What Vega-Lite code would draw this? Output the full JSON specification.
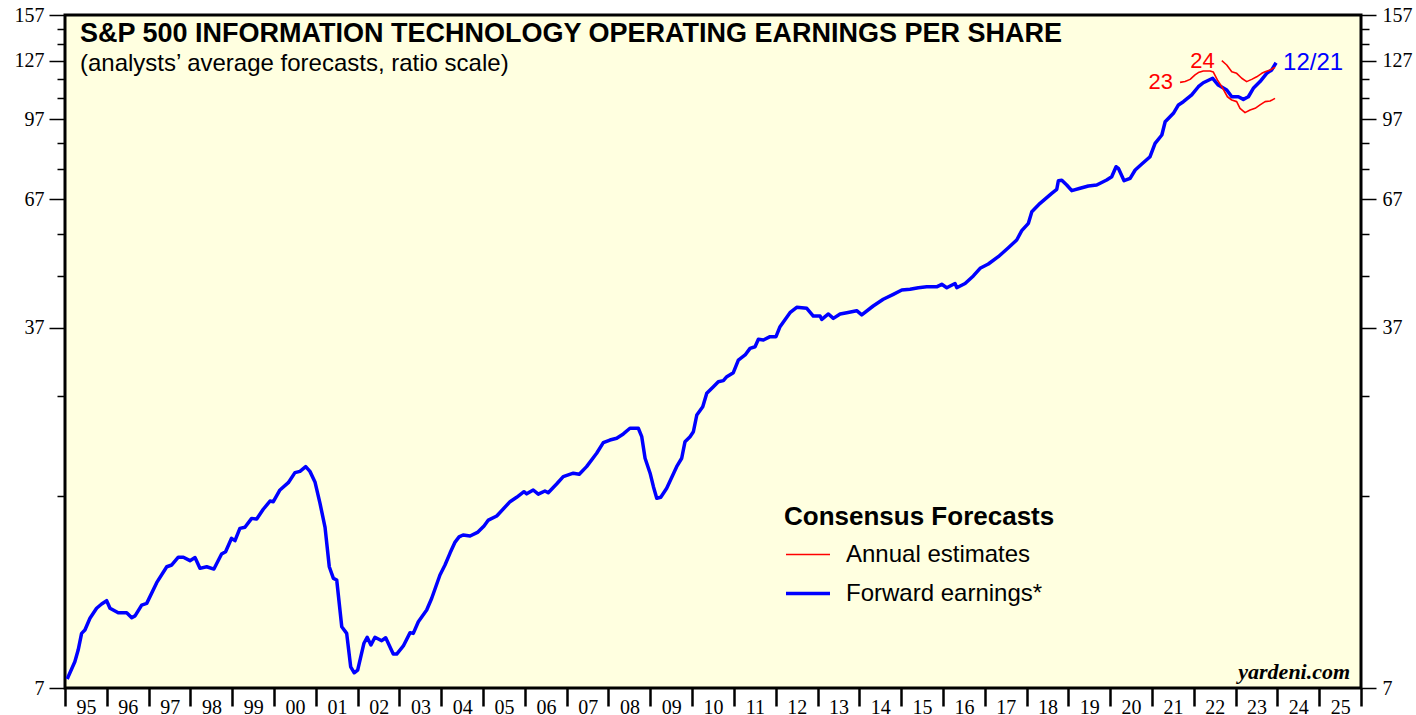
{
  "$schema": "https://vega.github.io/schema/vega-lite/v6.json",
  "autosize": "none",
  "width": 1296,
  "height": 673,
  "padding": {"left": 65, "top": 15, "right": 55, "bottom": 27},
  "background": "white",
  "title": {
    "text": "S&P 500 INFORMATION TECHNOLOGY OPERATING EARNINGS PER SHARE",
    "subtitle": "(analysts’ average forecasts, ratio scale)",
    "anchor": "start", "frame": "group", "orient": "top", "offset": -72, "dx": 15,
    "font": "Liberation Sans", "fontSize": 27, "fontWeight": "bold", "color": "black",
    "subtitleFont": "Liberation Sans", "subtitleFontSize": 24, "subtitleColor": "black", "subtitlePadding": 4
  },
  "config": {
    "view": {"fill": "#ffffe0", "stroke": "black", "strokeWidth": 3}
  },
  "datasets": {
    "lines": [
      {"date":"1995-01-20","value":7.30,"series":"Forward","kind":"Forward earnings*"},
      {"date":"1995-03-28","value":7.90,"series":"Forward","kind":"Forward earnings*"},
      {"date":"1995-04-26","value":8.34,"series":"Forward","kind":"Forward earnings*"},
      {"date":"1995-05-26","value":9.01,"series":"Forward","kind":"Forward earnings*"},
      {"date":"1995-06-24","value":9.15,"series":"Forward","kind":"Forward earnings*"},
      {"date":"1995-08-07","value":9.66,"series":"Forward","kind":"Forward earnings*"},
      {"date":"1995-10-04","value":10.12,"series":"Forward","kind":"Forward earnings*"},
      {"date":"1995-11-17","value":10.32,"series":"Forward","kind":"Forward earnings*"},
      {"date":"1995-12-31","value":10.48,"series":"Forward","kind":"Forward earnings*"},
      {"date":"1996-01-29","value":10.12,"series":"Forward","kind":"Forward earnings*"},
      {"date":"1996-04-10","value":9.91,"series":"Forward","kind":"Forward earnings*"},
      {"date":"1996-06-23","value":9.91,"series":"Forward","kind":"Forward earnings*"},
      {"date":"1996-08-06","value":9.69,"series":"Forward","kind":"Forward earnings*"},
      {"date":"1996-09-04","value":9.77,"series":"Forward","kind":"Forward earnings*"},
      {"date":"1996-11-01","value":10.27,"series":"Forward","kind":"Forward earnings*"},
      {"date":"1996-12-15","value":10.35,"series":"Forward","kind":"Forward earnings*"},
      {"date":"1997-03-12","value":11.39,"series":"Forward","kind":"Forward earnings*"},
      {"date":"1997-06-08","value":12.26,"series":"Forward","kind":"Forward earnings*"},
      {"date":"1997-07-22","value":12.36,"series":"Forward","kind":"Forward earnings*"},
      {"date":"1997-09-17","value":12.81,"series":"Forward","kind":"Forward earnings*"},
      {"date":"1997-10-31","value":12.81,"series":"Forward","kind":"Forward earnings*"},
      {"date":"1997-12-28","value":12.61,"series":"Forward","kind":"Forward earnings*"},
      {"date":"1998-02-10","value":12.79,"series":"Forward","kind":"Forward earnings*"},
      {"date":"1998-03-25","value":12.17,"series":"Forward","kind":"Forward earnings*"},
      {"date":"1998-05-23","value":12.26,"series":"Forward","kind":"Forward earnings*"},
      {"date":"1998-07-25","value":12.13,"series":"Forward","kind":"Forward earnings*"},
      {"date":"1998-09-30","value":13.00,"series":"Forward","kind":"Forward earnings*"},
      {"date":"1998-11-04","value":13.14,"series":"Forward","kind":"Forward earnings*"},
      {"date":"1998-12-26","value":13.98,"series":"Forward","kind":"Forward earnings*"},
      {"date":"1999-01-25","value":13.83,"series":"Forward","kind":"Forward earnings*"},
      {"date":"1999-03-09","value":14.64,"series":"Forward","kind":"Forward earnings*"},
      {"date":"1999-04-22","value":14.71,"series":"Forward","kind":"Forward earnings*"},
      {"date":"1999-06-20","value":15.33,"series":"Forward","kind":"Forward earnings*"},
      {"date":"1999-08-03","value":15.28,"series":"Forward","kind":"Forward earnings*"},
      {"date":"1999-09-29","value":15.99,"series":"Forward","kind":"Forward earnings*"},
      {"date":"1999-11-27","value":16.61,"series":"Forward","kind":"Forward earnings*"},
      {"date":"1999-12-26","value":16.56,"series":"Forward","kind":"Forward earnings*"},
      {"date":"2000-02-22","value":17.48,"series":"Forward","kind":"Forward earnings*"},
      {"date":"2000-05-05","value":18.08,"series":"Forward","kind":"Forward earnings*"},
      {"date":"2000-07-02","value":18.94,"series":"Forward","kind":"Forward earnings*"},
      {"date":"2000-08-15","value":19.05,"series":"Forward","kind":"Forward earnings*"},
      {"date":"2000-10-04","value":19.47,"series":"Forward","kind":"Forward earnings*"},
      {"date":"2000-11-10","value":19.05,"series":"Forward","kind":"Forward earnings*"},
      {"date":"2000-12-24","value":18.14,"series":"Forward","kind":"Forward earnings*"},
      {"date":"2001-02-06","value":16.43,"series":"Forward","kind":"Forward earnings*"},
      {"date":"2001-03-22","value":14.71,"series":"Forward","kind":"Forward earnings*"},
      {"date":"2001-04-28","value":12.26,"series":"Forward","kind":"Forward earnings*"},
      {"date":"2001-06-03","value":11.62,"series":"Forward","kind":"Forward earnings*"},
      {"date":"2001-07-02","value":11.53,"series":"Forward","kind":"Forward earnings*"},
      {"date":"2001-08-15","value":9.29,"series":"Forward","kind":"Forward earnings*"},
      {"date":"2001-09-27","value":9.01,"series":"Forward","kind":"Forward earnings*"},
      {"date":"2001-11-01","value":7.72,"series":"Forward","kind":"Forward earnings*"},
      {"date":"2001-12-02","value":7.51,"series":"Forward","kind":"Forward earnings*"},
      {"date":"2002-01-01","value":7.60,"series":"Forward","kind":"Forward earnings*"},
      {"date":"2002-02-25","value":8.61,"series":"Forward","kind":"Forward earnings*"},
      {"date":"2002-03-25","value":8.85,"series":"Forward","kind":"Forward earnings*"},
      {"date":"2002-04-27","value":8.54,"series":"Forward","kind":"Forward earnings*"},
      {"date":"2002-06-01","value":8.85,"series":"Forward","kind":"Forward earnings*"},
      {"date":"2002-07-30","value":8.71,"series":"Forward","kind":"Forward earnings*"},
      {"date":"2002-09-03","value":8.83,"series":"Forward","kind":"Forward earnings*"},
      {"date":"2002-11-08","value":8.19,"series":"Forward","kind":"Forward earnings*"},
      {"date":"2002-12-08","value":8.19,"series":"Forward","kind":"Forward earnings*"},
      {"date":"2003-02-04","value":8.50,"series":"Forward","kind":"Forward earnings*"},
      {"date":"2003-04-04","value":9.04,"series":"Forward","kind":"Forward earnings*"},
      {"date":"2003-05-02","value":9.01,"series":"Forward","kind":"Forward earnings*"},
      {"date":"2003-06-15","value":9.51,"series":"Forward","kind":"Forward earnings*"},
      {"date":"2003-08-27","value":10.04,"series":"Forward","kind":"Forward earnings*"},
      {"date":"2003-10-10","value":10.60,"series":"Forward","kind":"Forward earnings*"},
      {"date":"2003-12-21","value":11.80,"series":"Forward","kind":"Forward earnings*"},
      {"date":"2004-02-03","value":12.36,"series":"Forward","kind":"Forward earnings*"},
      {"date":"2004-03-18","value":13.06,"series":"Forward","kind":"Forward earnings*"},
      {"date":"2004-05-01","value":13.74,"series":"Forward","kind":"Forward earnings*"},
      {"date":"2004-06-05","value":14.07,"series":"Forward","kind":"Forward earnings*"},
      {"date":"2004-07-10","value":14.20,"series":"Forward","kind":"Forward earnings*"},
      {"date":"2004-09-09","value":14.13,"series":"Forward","kind":"Forward earnings*"},
      {"date":"2004-11-17","value":14.39,"series":"Forward","kind":"Forward earnings*"},
      {"date":"2005-01-09","value":14.80,"series":"Forward","kind":"Forward earnings*"},
      {"date":"2005-02-16","value":15.21,"series":"Forward","kind":"Forward earnings*"},
      {"date":"2005-04-30","value":15.50,"series":"Forward","kind":"Forward earnings*"},
      {"date":"2005-08-24","value":16.56,"series":"Forward","kind":"Forward earnings*"},
      {"date":"2005-10-21","value":16.90,"series":"Forward","kind":"Forward earnings*"},
      {"date":"2005-12-24","value":17.34,"series":"Forward","kind":"Forward earnings*"},
      {"date":"2006-01-17","value":17.17,"series":"Forward","kind":"Forward earnings*"},
      {"date":"2006-03-15","value":17.48,"series":"Forward","kind":"Forward earnings*"},
      {"date":"2006-04-28","value":17.15,"series":"Forward","kind":"Forward earnings*"},
      {"date":"2006-06-25","value":17.40,"series":"Forward","kind":"Forward earnings*"},
      {"date":"2006-07-24","value":17.26,"series":"Forward","kind":"Forward earnings*"},
      {"date":"2006-10-05","value":17.97,"series":"Forward","kind":"Forward earnings*"},
      {"date":"2006-12-02","value":18.59,"series":"Forward","kind":"Forward earnings*"},
      {"date":"2007-02-28","value":18.89,"series":"Forward","kind":"Forward earnings*"},
      {"date":"2007-04-21","value":18.80,"series":"Forward","kind":"Forward earnings*"},
      {"date":"2007-06-24","value":19.47,"series":"Forward","kind":"Forward earnings*"},
      {"date":"2007-09-20","value":20.71,"series":"Forward","kind":"Forward earnings*"},
      {"date":"2007-11-17","value":21.75,"series":"Forward","kind":"Forward earnings*"},
      {"date":"2008-01-14","value":22.02,"series":"Forward","kind":"Forward earnings*"},
      {"date":"2008-03-13","value":22.20,"series":"Forward","kind":"Forward earnings*"},
      {"date":"2008-05-10","value":22.65,"series":"Forward","kind":"Forward earnings*"},
      {"date":"2008-07-07","value":23.25,"series":"Forward","kind":"Forward earnings*"},
      {"date":"2008-09-18","value":23.25,"series":"Forward","kind":"Forward earnings*"},
      {"date":"2008-10-18","value":22.36,"series":"Forward","kind":"Forward earnings*"},
      {"date":"2008-11-16","value":20.24,"series":"Forward","kind":"Forward earnings*"},
      {"date":"2008-12-30","value":18.89,"series":"Forward","kind":"Forward earnings*"},
      {"date":"2009-01-28","value":17.75,"series":"Forward","kind":"Forward earnings*"},
      {"date":"2009-02-26","value":16.82,"series":"Forward","kind":"Forward earnings*"},
      {"date":"2009-04-02","value":16.90,"series":"Forward","kind":"Forward earnings*"},
      {"date":"2009-05-24","value":17.62,"series":"Forward","kind":"Forward earnings*"},
      {"date":"2009-08-19","value":19.47,"series":"Forward","kind":"Forward earnings*"},
      {"date":"2009-10-02","value":20.24,"series":"Forward","kind":"Forward earnings*"},
      {"date":"2009-10-31","value":21.85,"series":"Forward","kind":"Forward earnings*"},
      {"date":"2009-12-14","value":22.36,"series":"Forward","kind":"Forward earnings*"},
      {"date":"2010-01-12","value":22.88,"series":"Forward","kind":"Forward earnings*"},
      {"date":"2010-02-11","value":24.72,"series":"Forward","kind":"Forward earnings*"},
      {"date":"2010-04-04","value":25.69,"series":"Forward","kind":"Forward earnings*"},
      {"date":"2010-05-09","value":27.33,"series":"Forward","kind":"Forward earnings*"},
      {"date":"2010-07-06","value":28.17,"series":"Forward","kind":"Forward earnings*"},
      {"date":"2010-08-18","value":28.83,"series":"Forward","kind":"Forward earnings*"},
      {"date":"2010-10-01","value":28.98,"series":"Forward","kind":"Forward earnings*"},
      {"date":"2010-10-31","value":29.51,"series":"Forward","kind":"Forward earnings*"},
      {"date":"2010-12-27","value":30.06,"series":"Forward","kind":"Forward earnings*"},
      {"date":"2011-02-09","value":31.87,"series":"Forward","kind":"Forward earnings*"},
      {"date":"2011-04-09","value":32.63,"series":"Forward","kind":"Forward earnings*"},
      {"date":"2011-05-22","value":33.64,"series":"Forward","kind":"Forward earnings*"},
      {"date":"2011-07-05","value":33.89,"series":"Forward","kind":"Forward earnings*"},
      {"date":"2011-08-03","value":35.07,"series":"Forward","kind":"Forward earnings*"},
      {"date":"2011-09-16","value":34.96,"series":"Forward","kind":"Forward earnings*"},
      {"date":"2011-11-13","value":35.50,"series":"Forward","kind":"Forward earnings*"},
      {"date":"2012-01-04","value":35.50,"series":"Forward","kind":"Forward earnings*"},
      {"date":"2012-02-08","value":37.18,"series":"Forward","kind":"Forward earnings*"},
      {"date":"2012-05-05","value":39.66,"series":"Forward","kind":"Forward earnings*"},
      {"date":"2012-07-03","value":40.66,"series":"Forward","kind":"Forward earnings*"},
      {"date":"2012-09-29","value":40.47,"series":"Forward","kind":"Forward earnings*"},
      {"date":"2012-11-25","value":39.06,"series":"Forward","kind":"Forward earnings*"},
      {"date":"2013-01-23","value":39.06,"series":"Forward","kind":"Forward earnings*"},
      {"date":"2013-02-07","value":38.45,"series":"Forward","kind":"Forward earnings*"},
      {"date":"2013-04-06","value":39.43,"series":"Forward","kind":"Forward earnings*"},
      {"date":"2013-05-19","value":38.63,"series":"Forward","kind":"Forward earnings*"},
      {"date":"2013-07-17","value":39.43,"series":"Forward","kind":"Forward earnings*"},
      {"date":"2013-09-13","value":39.66,"series":"Forward","kind":"Forward earnings*"},
      {"date":"2013-12-09","value":40.03,"series":"Forward","kind":"Forward earnings*"},
      {"date":"2014-01-22","value":39.26,"series":"Forward","kind":"Forward earnings*"},
      {"date":"2014-05-02","value":40.91,"series":"Forward","kind":"Forward earnings*"},
      {"date":"2014-07-29","value":42.20,"series":"Forward","kind":"Forward earnings*"},
      {"date":"2014-10-25","value":43.18,"series":"Forward","kind":"Forward earnings*"},
      {"date":"2015-01-07","value":44.05,"series":"Forward","kind":"Forward earnings*"},
      {"date":"2015-03-20","value":44.20,"series":"Forward","kind":"Forward earnings*"},
      {"date":"2015-06-01","value":44.52,"series":"Forward","kind":"Forward earnings*"},
      {"date":"2015-08-13","value":44.70,"series":"Forward","kind":"Forward earnings*"},
      {"date":"2015-11-08","value":44.70,"series":"Forward","kind":"Forward earnings*"},
      {"date":"2015-12-22","value":45.22,"series":"Forward","kind":"Forward earnings*"},
      {"date":"2016-02-04","value":44.52,"series":"Forward","kind":"Forward earnings*"},
      {"date":"2016-04-16","value":45.40,"series":"Forward","kind":"Forward earnings*"},
      {"date":"2016-05-01","value":44.52,"series":"Forward","kind":"Forward earnings*"},
      {"date":"2016-07-13","value":45.40,"series":"Forward","kind":"Forward earnings*"},
      {"date":"2016-09-23","value":47.00,"series":"Forward","kind":"Forward earnings*"},
      {"date":"2016-11-21","value":48.70,"series":"Forward","kind":"Forward earnings*"},
      {"date":"2017-02-01","value":49.67,"series":"Forward","kind":"Forward earnings*"},
      {"date":"2017-04-29","value":51.38,"series":"Forward","kind":"Forward earnings*"},
      {"date":"2017-07-26","value":53.56,"series":"Forward","kind":"Forward earnings*"},
      {"date":"2017-10-07","value":55.50,"series":"Forward","kind":"Forward earnings*"},
      {"date":"2017-11-20","value":57.94,"series":"Forward","kind":"Forward earnings*"},
      {"date":"2018-01-17","value":59.95,"series":"Forward","kind":"Forward earnings*"},
      {"date":"2018-02-16","value":63.26,"series":"Forward","kind":"Forward earnings*"},
      {"date":"2018-04-29","value":65.76,"series":"Forward","kind":"Forward earnings*"},
      {"date":"2018-08-09","value":68.87,"series":"Forward","kind":"Forward earnings*"},
      {"date":"2018-09-22","value":70.16,"series":"Forward","kind":"Forward earnings*"},
      {"date":"2018-10-06","value":73.00,"series":"Forward","kind":"Forward earnings*"},
      {"date":"2018-11-05","value":73.14,"series":"Forward","kind":"Forward earnings*"},
      {"date":"2018-12-18","value":71.56,"series":"Forward","kind":"Forward earnings*"},
      {"date":"2019-01-31","value":69.71,"series":"Forward","kind":"Forward earnings*"},
      {"date":"2019-04-14","value":70.48,"series":"Forward","kind":"Forward earnings*"},
      {"date":"2019-06-25","value":71.23,"series":"Forward","kind":"Forward earnings*"},
      {"date":"2019-09-06","value":71.56,"series":"Forward","kind":"Forward earnings*"},
      {"date":"2019-12-02","value":73.23,"series":"Forward","kind":"Forward earnings*"},
      {"date":"2020-01-15","value":74.36,"series":"Forward","kind":"Forward earnings*"},
      {"date":"2020-02-22","value":77.88,"series":"Forward","kind":"Forward earnings*"},
      {"date":"2020-03-13","value":77.30,"series":"Forward","kind":"Forward earnings*"},
      {"date":"2020-05-02","value":73.00,"series":"Forward","kind":"Forward earnings*"},
      {"date":"2020-06-24","value":73.81,"series":"Forward","kind":"Forward earnings*"},
      {"date":"2020-08-07","value":76.70,"series":"Forward","kind":"Forward earnings*"},
      {"date":"2020-10-04","value":78.85,"series":"Forward","kind":"Forward earnings*"},
      {"date":"2020-12-15","value":81.56,"series":"Forward","kind":"Forward earnings*"},
      {"date":"2021-01-28","value":86.77,"series":"Forward","kind":"Forward earnings*"},
      {"date":"2021-03-28","value":90.17,"series":"Forward","kind":"Forward earnings*"},
      {"date":"2021-04-26","value":95.88,"series":"Forward","kind":"Forward earnings*"},
      {"date":"2021-07-07","value":99.68,"series":"Forward","kind":"Forward earnings*"},
      {"date":"2021-08-20","value":103.6,"series":"Forward","kind":"Forward earnings*"},
      {"date":"2021-10-02","value":105.17,"series":"Forward","kind":"Forward earnings*"},
      {"date":"2021-12-14","value":108.5,"series":"Forward","kind":"Forward earnings*"},
      {"date":"2022-02-10","value":112.7,"series":"Forward","kind":"Forward earnings*"},
      {"date":"2022-03-25","value":114.8,"series":"Forward","kind":"Forward earnings*"},
      {"date":"2022-06-15","value":117.2,"series":"Forward","kind":"Forward earnings*"},
      {"date":"2022-08-03","value":113.6,"series":"Forward","kind":"Forward earnings*"},
      {"date":"2022-10-16","value":111.0,"series":"Forward","kind":"Forward earnings*"},
      {"date":"2022-11-29","value":107.6,"series":"Forward","kind":"Forward earnings*"},
      {"date":"2023-01-26","value":107.6,"series":"Forward","kind":"Forward earnings*"},
      {"date":"2023-03-10","value":106.3,"series":"Forward","kind":"Forward earnings*"},
      {"date":"2023-04-23","value":107.6,"series":"Forward","kind":"Forward earnings*"},
      {"date":"2023-06-05","value":111.9,"series":"Forward","kind":"Forward earnings*"},
      {"date":"2023-08-03","value":115.4,"series":"Forward","kind":"Forward earnings*"},
      {"date":"2023-09-30","value":119.9,"series":"Forward","kind":"Forward earnings*"},
      {"date":"2023-11-13","value":121.8,"series":"Forward","kind":"Forward earnings*"},
      {"date":"2023-12-21","value":125.9,"series":"Forward","kind":"Forward earnings*"},
      {"date":"2021-09-03","value":115.0,"series":"2023","kind":"Annual estimates"},
      {"date":"2021-10-17","value":115.5,"series":"2023","kind":"Annual estimates"},
      {"date":"2021-11-30","value":116.6,"series":"2023","kind":"Annual estimates"},
      {"date":"2022-01-12","value":119.0,"series":"2023","kind":"Annual estimates"},
      {"date":"2022-02-10","value":120.3,"series":"2023","kind":"Annual estimates"},
      {"date":"2022-03-25","value":121.2,"series":"2023","kind":"Annual estimates"},
      {"date":"2022-05-23","value":121.2,"series":"2023","kind":"Annual estimates"},
      {"date":"2022-06-21","value":120.6,"series":"2023","kind":"Annual estimates"},
      {"date":"2022-07-26","value":116.3,"series":"2023","kind":"Annual estimates"},
      {"date":"2022-09-03","value":112.7,"series":"2023","kind":"Annual estimates"},
      {"date":"2022-10-22","value":107.6,"series":"2023","kind":"Annual estimates"},
      {"date":"2022-11-29","value":106.0,"series":"2023","kind":"Annual estimates"},
      {"date":"2023-01-11","value":105.2,"series":"2023","kind":"Annual estimates"},
      {"date":"2023-02-09","value":102.0,"series":"2023","kind":"Annual estimates"},
      {"date":"2023-03-25","value":100.0,"series":"2023","kind":"Annual estimates"},
      {"date":"2023-05-08","value":101.2,"series":"2023","kind":"Annual estimates"},
      {"date":"2023-06-21","value":102.0,"series":"2023","kind":"Annual estimates"},
      {"date":"2023-08-03","value":103.6,"series":"2023","kind":"Annual estimates"},
      {"date":"2023-09-16","value":105.2,"series":"2023","kind":"Annual estimates"},
      {"date":"2023-10-30","value":105.5,"series":"2023","kind":"Annual estimates"},
      {"date":"2023-12-12","value":106.8,"series":"2023","kind":"Annual estimates"},
      {"date":"2022-09-03","value":127.1,"series":"2024","kind":"Annual estimates"},
      {"date":"2022-10-16","value":124.6,"series":"2024","kind":"Annual estimates"},
      {"date":"2022-11-29","value":120.8,"series":"2024","kind":"Annual estimates"},
      {"date":"2023-01-11","value":119.9,"series":"2024","kind":"Annual estimates"},
      {"date":"2023-02-24","value":117.2,"series":"2024","kind":"Annual estimates"},
      {"date":"2023-04-08","value":115.4,"series":"2024","kind":"Annual estimates"},
      {"date":"2023-05-22","value":116.6,"series":"2024","kind":"Annual estimates"},
      {"date":"2023-07-05","value":118.0,"series":"2024","kind":"Annual estimates"},
      {"date":"2023-08-18","value":119.9,"series":"2024","kind":"Annual estimates"},
      {"date":"2023-09-16","value":120.8,"series":"2024","kind":"Annual estimates"},
      {"date":"2023-10-30","value":121.8,"series":"2024","kind":"Annual estimates"},
      {"date":"2023-12-12","value":123.3,"series":"2024","kind":"Annual estimates"}
    ],
    "labels": [
      {"date":"2021-09-03","value":115.0,"label":"23","kind":"Annual estimates"},
      {"date":"2022-09-03","value":127.1,"label":"24","kind":"Annual estimates"},
      {"date":"2023-12-21","value":125.9,"label":"12/21","kind":"Forward earnings*"}
    ],
    "source": [
      {"date":"2025-09-28","value":7.54,"label":"yardeni.com"}
    ]
  },
  "resolve": {"axis": {"y": "independent"}},
  "layer": [
    {
      "data": {"name": "lines"},
      "mark": {"type": "line", "interpolate": "linear", "strokeJoin": "round"},
      "encoding": {
        "x": {
          "field": "date", "type": "temporal",
          "scale": {"type": "utc", "domain": [{"year": 1995, "month": 1, "date": 1, "utc": true}, {"year": 2026, "month": 1, "date": 1, "utc": true}], "nice": false},
          "axis": {
            "orient": "bottom", "title": null, "grid": false, "domain": false,
            "tickCount": {"interval": "year", "step": 1},
            "labelExpr": "utcyear(datum.value) >= 2026 ? '' : utcFormat(datum.value, '%y')",
            "tickSize": 18, "tickWidth": 2.5, "tickColor": "black",
            "labelOffset": 21, "labelPadding": -9, "labelBaseline": "top",
            "labelFont": "Liberation Serif", "labelFontSize": 20, "labelColor": "black",
            "labelFlush": false, "labelOverlap": false
          }
        },
        "y": {
          "field": "value", "type": "quantitative",
          "scale": {"type": "log", "domain": [7, 157], "nice": false},
          "axis": {
            "orient": "left", "title": null, "grid": false, "domain": false,
            "values": [7, 17, 27, 37, 47, 57, 67, 77, 87, 97, 107, 117, 127, 137, 147, 157],
            "format": "d",
            "labelExpr": "indexof([7,37,67,97,127,157], datum.value) >= 0 ? toString(datum.value) : ''",
            "tickSize": {"condition": {"test": "indexof([7,37,67,97,127,157], datum.value) >= 0", "value": 16}, "value": 8},
            "tickWidth": 1.5, "tickColor": "black",
            "labelPadding": 5, "labelFont": "Liberation Serif", "labelFontSize": 20, "labelColor": "black",
            "labelFlush": false, "labelOverlap": false
          }
        },
        "detail": {"field": "series", "type": "nominal"},
        "color": {
          "field": "kind", "type": "nominal",
          "scale": {"domain": ["Annual estimates", "Forward earnings*"], "range": ["#ff0000", "#0000ff"]},
          "legend": {
            "orient": "none", "legendX": 719, "legendY": 489, "title": "Consensus Forecasts",
            "titleFont": "Liberation Sans", "titleFontSize": 26, "titleFontWeight": "bold", "titleColor": "black", "titlePadding": 5, "titleLimit": 0,
            "labelFont": "Liberation Sans", "labelFontSize": 24, "labelColor": "black", "labelOffset": 14, "labelLimit": 0,
            "symbolType": "stroke", "symbolSize": 1936, "clipHeight": 39, "rowPadding": 0, "padding": 0
          }
        },
        "strokeWidth": {
          "field": "kind", "type": "nominal",
          "scale": {"domain": ["Annual estimates", "Forward earnings*"], "range": [1.6, 3.5]},
          "legend": {
            "orient": "none", "legendX": 719, "legendY": 489, "title": "Consensus Forecasts",
            "titleFont": "Liberation Sans", "titleFontSize": 26, "titleFontWeight": "bold", "titleColor": "black", "titlePadding": 5, "titleLimit": 0,
            "labelFont": "Liberation Sans", "labelFontSize": 24, "labelColor": "black", "labelOffset": 14, "labelLimit": 0,
            "symbolType": "stroke", "symbolSize": 1936, "clipHeight": 39, "rowPadding": 0, "padding": 0
          }
        }
      }
    },
    {
      "data": {"name": "labels"},
      "transform": [{"filter": "datum.kind == 'Annual estimates'"}],
      "mark": {"type": "text", "align": "right", "baseline": "middle", "dx": -7, "font": "Liberation Sans", "fontSize": 22, "color": "#ff0000"},
      "encoding": {
        "x": {"field": "date", "type": "temporal"},
        "y": {"field": "value", "type": "quantitative", "scale": {"type": "log", "domain": [7, 157], "nice": false}, "axis": null},
        "text": {"field": "label"}
      }
    },
    {
      "data": {"name": "labels"},
      "transform": [{"filter": "datum.kind == 'Forward earnings*'"}],
      "mark": {"type": "text", "align": "left", "baseline": "middle", "dx": 7, "font": "Liberation Sans", "fontSize": 24, "color": "#0000ff"},
      "encoding": {
        "x": {"field": "date", "type": "temporal"},
        "y": {"field": "value", "type": "quantitative", "scale": {"type": "log", "domain": [7, 157], "nice": false}, "axis": null},
        "text": {"field": "label"}
      }
    },
    {
      "data": {"name": "source"},
      "mark": {"type": "text", "align": "right", "baseline": "middle", "font": "Liberation Serif", "fontSize": 22, "fontStyle": "italic", "fontWeight": "bold", "color": "black"},
      "encoding": {
        "x": {"field": "date", "type": "temporal"},
        "y": {
          "field": "value", "type": "quantitative",
          "scale": {"type": "log", "domain": [7, 157], "nice": false},
          "axis": {
            "orient": "right", "title": null, "grid": false, "domain": false,
            "values": [7, 17, 27, 37, 47, 57, 67, 77, 87, 97, 107, 117, 127, 137, 147, 157],
            "format": "d",
            "labelExpr": "indexof([7,37,67,97,127,157], datum.value) >= 0 ? toString(datum.value) : ''",
            "tickSize": {"condition": {"test": "indexof([7,37,67,97,127,157], datum.value) >= 0", "value": 15}, "value": 8},
            "tickWidth": 1.5, "tickColor": "black",
            "labelPadding": 6, "labelFont": "Liberation Serif", "labelFontSize": 20, "labelColor": "black",
            "labelFlush": false, "labelOverlap": false
          }
        },
        "text": {"field": "label"}
      }
    }
  ]
}
